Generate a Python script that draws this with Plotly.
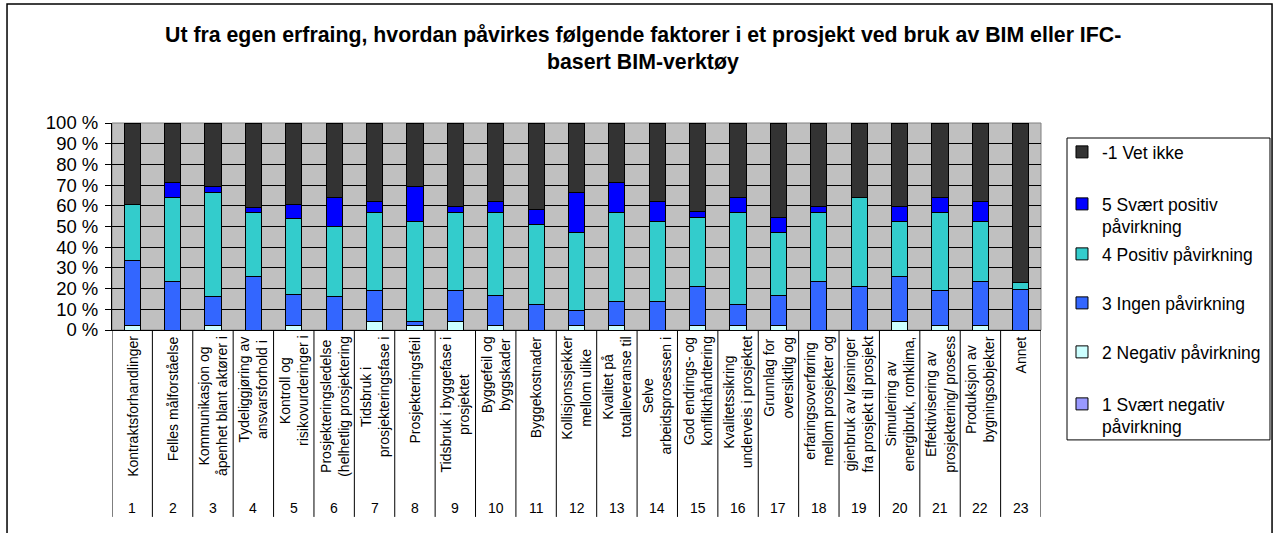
import plotly.graph_objects as go

# kategorier (slik de vises i diagrammet, avkuttet tekst)
categories = [
    "Kontraktsforhandlinger",
    "Felles målforståelse",
    "Kommunikasjon og<br>åpenhet blant aktører i",
    "Tydeliggjøring av<br>ansvarsforhold i",
    "Kontroll og<br>risikovurderinger i",
    "Prosjekteringsledelse<br>(helhetlig prosjektering",
    "Tidsbruk i<br>prosjekteringsfase i",
    "Prosjekteringsfeil",
    "Tidsbruk i byggefase i<br>prosjektet",
    "Byggefeil og<br>byggskader",
    "Byggekostnader",
    "Kollisjonssjekker<br>mellom ulike",
    "Kvalitet på<br>totalleveranse til",
    "Selve<br>arbeidsprosessen i",
    "God endrings- og<br>konflikthåndtering",
    "Kvalitetssikring<br>underveis i prosjektet",
    "Grunnlag for<br>oversiktlig og",
    "erfaringsoverføring<br>mellom prosjekter og",
    "gjenbruk av løsninger<br>fra prosjekt til prosjekt",
    "Simulering av<br>energibruk, romklima,",
    "Effektivisering av<br>prosjektering/ prosess",
    "Produksjon av<br>bygningsobjekter",
    "Annet",
]
numbers = [str(i) for i in range(1, 24)]
y_ticks = list(range(0, 101, 10))
y_labels = [f"{v} %" for v in y_ticks]

# andeler i prosent
svaert_negativ = [0] * 23
negativ = [2.4, 0, 2.4, 0, 2.4, 0, 4.2, 2.4, 4.2, 2.4, 0, 2.4,
           2.4, 0, 2.4, 2.4, 2.4, 0, 0, 4.2, 2.4, 2.4, 0]
ingen = [31.2, 23.5, 14.0, 26.0, 14.8, 16.4, 14.8, 1.8, 14.8, 14.2, 12.1, 7.1,
         11.6, 14.0, 18.5, 9.7, 14.2, 23.5, 20.9, 21.8, 16.6, 21.1, 19.6]
positiv = [26.8, 40.3, 50.0, 30.9, 36.5, 33.4, 37.8, 48.4, 37.8, 40.2, 39.0, 37.8,
           42.8, 38.4, 33.4, 44.7, 30.7, 33.3, 42.9, 26.4, 37.8, 28.9, 3.2]
svaert_positiv = [0, 7.3, 2.7, 2.4, 6.9, 14.2, 5.3, 16.5, 2.7, 5.4, 7.3, 19.3,
                  14.4, 9.8, 2.8, 7.2, 7.0, 2.7, 0, 7.1, 7.2, 9.8, 0]
vet_ikke = [39.6, 28.9, 30.9, 40.7, 39.4, 36.0, 37.9, 30.9, 40.5, 37.8, 41.6, 33.4,
            28.8, 37.8, 42.9, 36.0, 45.7, 40.5, 36.2, 40.5, 36.0, 37.8, 77.2]

# (navn, verdier, farge) - nederst i stabelen først
series = [
    ("1 Svært negativ<br>påvirkning", svaert_negativ, "#9999FF"),
    ("2 Negativ påvirkning", negativ, "#CCFFFF"),
    ("3 Ingen påvirkning", ingen, "#3366FF"),
    ("4 Positiv påvirkning", positiv, "#33CCCC"),
    ("5 Svært positiv<br>påvirkning", svaert_positiv, "#0000FF"),
    ("-1 Vet ikke", vet_ikke, "#333333"),
]

FONT = "Liberation Sans, Arial, sans-serif"

# én legende per serie, slik at avstanden blir lik som i Excel
legend_top_px = [386, 334, 285, 236, 186, 134]

fig = go.Figure()
legends = {}
for k, (name, vals, color) in enumerate(series):
    leg = "legend" if k == 0 else f"legend{k + 1}"
    fig.add_trace(go.Bar(
        x=categories, y=vals, name=name, legend=leg,
        marker=dict(color=color, line=dict(color="black", width=1)),
    ))
    legends[leg] = dict(
        x=1.0226, xanchor="left", yanchor="top",
        y=(330 - legend_top_px[k]) / 207,
        valign="top", borderwidth=0, bgcolor="rgba(0,0,0,0)",
        font=dict(size=17.5, family=FONT),
    )

fig.update_layout(
    barmode="stack",
    bargap=0.6,
    width=1276, height=533,
    margin=dict(l=112, r=235, t=123, b=203, autoexpand=False),
    paper_bgcolor="white",
    plot_bgcolor="#C0C0C0",
    font=dict(family=FONT, color="black"),
    showlegend=True,
    **legends,
)

fig.update_yaxes(
    range=[0, 100], tickmode="array", tickvals=y_ticks, ticktext=y_labels,
    showline=True, linecolor="black", linewidth=1,
    ticks="outside", ticklen=6, tickcolor="black", ticklabelstandoff=3,
    showgrid=True, gridcolor="black", gridwidth=1,
    tickfont=dict(size=18.5, family=FONT), zeroline=False,
)
fig.update_xaxes(
    range=[-0.5, 22.5], showticklabels=False, ticks="",
    showline=True, linecolor="black", linewidth=1, showgrid=False,
)

# kategoritekster og nummer under aksen
for i, (cat, num) in enumerate(zip(categories, numbers)):
    fig.add_annotation(
        x=i, y=-0.02, xref="x", yref="paper", text=cat, textangle=-90,
        showarrow=False, xanchor="center", yanchor="top", align="center",
        font=dict(size=14, family=FONT),
    )
    fig.add_annotation(
        x=i, y=-0.86, xref="x", yref="paper", text=num,
        showarrow=False, xanchor="center", yanchor="middle",
        font=dict(size=14, family=FONT),
    )

# skillelinjer mellom kategoriene
for i in range(len(categories) + 1):
    fig.add_shape(type="line", xref="x", yref="paper",
                  x0=i - 0.5, x1=i - 0.5, y0=0, y1=-0.903,
                  line=dict(color="black", width=1))

# grå kant rundt plottet
fig.add_shape(type="rect", xref="paper", yref="paper", x0=0, x1=1, y0=0, y1=1,
              line=dict(color="#808080", width=1), layer="below")

# ramme rundt legenden
fig.add_shape(type="rect", xref="paper", yref="paper",
              x0=1.028, x1=1.2465, y0=-0.531, y1=0.9275,
              line=dict(color="black", width=1))

# ramme rundt hele diagrammet
fig.add_shape(type="rect", xref="paper", yref="paper",
              x0=-0.113, x1=1.2487, y0=-1.1, y1=1.575,
              line=dict(color="black", width=1.5))

# tittel
fig.add_annotation(
    x=0.5716, y=1.425, xref="paper", yref="paper", showarrow=False,
    text="<b>Ut fra egen erfraing, hvordan påvirkes følgende faktorer i et prosjekt ved bruk av BIM eller IFC-</b>",
    font=dict(size=21.3, family=FONT), xanchor="center", yanchor="middle",
)
fig.add_annotation(
    x=0.5716, y=1.2947, xref="paper", yref="paper", showarrow=False,
    text="<b>basert BIM-verktøy</b>",
    font=dict(size=21.3, family=FONT), xanchor="center", yanchor="middle",
)

fig.write_html("out.html", config={"displayModeBar": False},
               post_script="document.body.style.margin = '0px';")
